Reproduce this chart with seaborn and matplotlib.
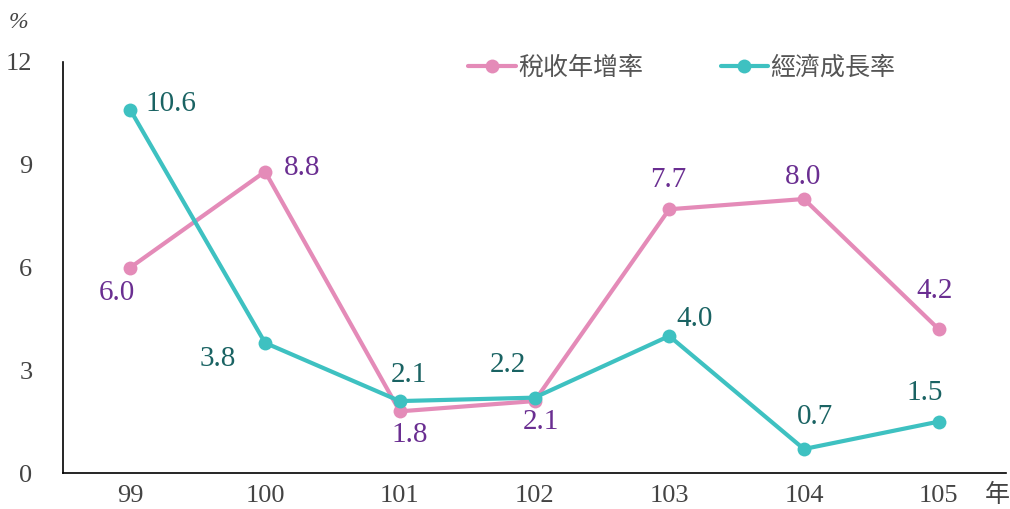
import matplotlib
matplotlib.use("Agg")
import matplotlib.pyplot as plt
from matplotlib.lines import Line2D
import seaborn as sns
import pandas as pd

years = ["99", "100", "101", "102", "103", "104", "105"]
tax_growth = [6.0, 8.8, 1.8, 2.1, 7.7, 8.0, 4.2]
gdp_growth = [10.6, 3.8, 2.1, 2.2, 4.0, 0.7, 1.5]
series_names = ["稅收年增率", "經濟成長率"]
y_ticks = [0, 3, 6, 9, 12]

sns.set_style("white")
plt.rcParams['font.family'] = ['Noto Sans CJK TC', 'DejaVu Sans']

df = pd.DataFrame({
    "year": years * 2,
    "value": tax_growth + gdp_growth,
    "series": [series_names[0]] * len(years) + [series_names[1]] * len(years),
})

pink = "#E48BB8"
teal = "#3EC1C1"
palette = {series_names[0]: pink, series_names[1]: teal}

fig = plt.figure(figsize=(10.1, 5.09), dpi=100)
ax = fig.add_axes([63/1010, 36/509, 943/1010, 411/509])

sns.lineplot(data=df, x="year", y="value", hue="series", palette=palette,
             marker="o", markersize=10, markeredgewidth=0, linewidth=3,
             ax=ax, legend=False, sort=False)

ax.set_xlim(-0.5, 6.5)
ax.set_ylim(0, 12)
ax.set_yticks(y_ticks)
ax.set_xticks(range(len(years)))
ax.set_xticklabels(years)
ax.set_xlabel("")
ax.set_ylabel("")
for s in ["top", "right"]:
    ax.spines[s].set_visible(False)
for s in ["left", "bottom"]:
    ax.spines[s].set_color("black")
    ax.spines[s].set_linewidth(1.2)
ax.tick_params(axis="both", length=0, colors="#444444", labelsize=19)
ax.tick_params(axis="y", pad=22)
ax.tick_params(axis="x", pad=9)
for lab in ax.get_xticklabels() + ax.get_yticklabels():
    lab.set_fontfamily("Liberation Serif")

tax_col = "#6A2E91"
gdp_col = "#1A6363"
# offsets in pixels (dx, dy) with y up
tax_off = [(-13, -26), (37, 4), (10, -24), (6, -21), (-1, 29), (-1, 22), (-4, 38)]
gdp_off = [(41, 6), (-47, -16), (9, 26), (-27, 33), (25, 17), (11, 32), (-14, 29)]
for i, v in enumerate(tax_growth):
    ax.annotate(f"{v:.1f}", (i, v), xytext=tax_off[i], textcoords="offset pixels",
                ha="center", va="center", color=tax_col, fontsize=21,
                fontfamily="Liberation Serif")
for i, v in enumerate(gdp_growth):
    ax.annotate(f"{v:.1f}", (i, v), xytext=gdp_off[i], textcoords="offset pixels",
                ha="center", va="center", color=gdp_col, fontsize=21,
                fontfamily="Liberation Serif")

handles = [Line2D([0], [0], color=pink, lw=3, marker="o", markersize=10, markeredgewidth=0),
           Line2D([0], [0], color=teal, lw=3, marker="o", markersize=10, markeredgewidth=0)]
leg = fig.legend(handles, series_names, loc="center left", bbox_to_anchor=(468/1010, 1 - 68/509),
                 ncol=2, frameon=False, fontsize=18, handlelength=1.9, handletextpad=0.1,
                 columnspacing=3.1, borderaxespad=0, borderpad=0)
for t in leg.get_texts():
    t.set_color("#555555")

fig.text(18/1010, 1 - 22/509, "%", ha="center", va="center", fontsize=17,
         color="#444444", fontfamily="Liberation Serif", style="italic")
fig.text(997/1010, 1 - 495/509, "年", ha="center", va="center", fontsize=18,
         color="#444444")

fig.savefig("out.png", dpi=100)
